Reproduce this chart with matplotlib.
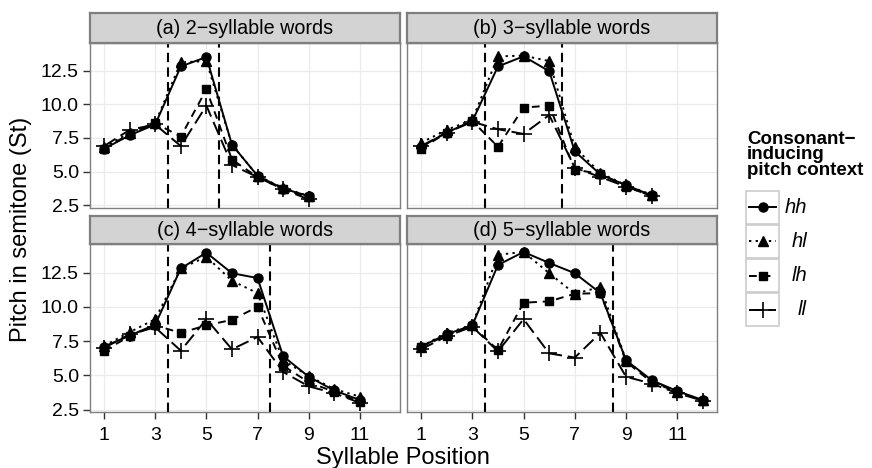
import matplotlib
matplotlib.use("Agg")
import matplotlib.pyplot as plt
from matplotlib.patches import Rectangle

plt.rcParams['font.family'] = ['Liberation Sans', 'DejaVu Sans']

# ---------------- data ----------------
panel_titles = ["(a) 2\u2212syllable words", "(b) 3\u2212syllable words",
                "(c) 4\u2212syllable words", "(d) 5\u2212syllable words"]
n_syllables = [2, 3, 4, 5]
contexts = ["hh", "hl", "lh", "ll"]

a_hh = [6.7, 7.7, 8.5, 12.8, 13.5, 7.0, 4.7, 3.75, 3.2]
a_hl = [6.8, 7.9, 8.6, 13.1, 13.2, 7.0, 4.7, 3.8, 3.2]
a_lh = [6.7, 7.8, 8.6, 7.6, 11.1, 5.9, 4.6, 3.7, 3.1]
a_ll = [6.9, 8.1, 8.5, 6.9, 9.9, 5.5, 4.6, 3.7, 2.95]

b_hh = [6.85, 7.9, 8.75, 12.8, 13.55, 12.45, 6.5, 4.8, 4.0, 3.25]
b_hl = [7.15, 8.1, 8.85, 13.55, 13.6, 13.2, 6.8, 4.9, 4.0, 3.3]
b_lh = [6.7, 7.9, 8.75, 6.85, 9.75, 9.9, 5.15, 4.85, 3.9, 3.2]
b_ll = [6.9, 7.9, 8.7, 8.15, 7.8, 9.2, 5.3, 4.6, 3.9, 3.2]

c_hh = [7.1, 7.9, 8.7, 12.8, 13.95, 12.45, 12.1, 6.4, 4.9, 3.9, 3.2]
c_hl = [7.15, 8.15, 9.1, 12.8, 13.65, 11.9, 11.0, 6.1, 4.95, 4.0, 3.45]
c_lh = [6.8, 7.85, 8.65, 8.1, 8.65, 9.05, 10.0, 5.7, 4.5, 3.8, 3.05]
c_ll = [7.0, 8.0, 8.5, 6.8, 9.1, 6.9, 7.8, 5.25, 4.2, 3.7, 3.0]

d_hh = [7.1, 8.0, 8.65, 13.05, 14.0, 13.2, 12.45, 11.0, 6.1, 4.65, 3.85, 3.2]
d_hl = [7.1, 8.1, 8.65, 13.8, 14.0, 12.45, 10.95, 11.45, 6.1, 4.6, 3.8, 3.2]
d_lh = [7.1, 7.9, 8.6, 6.85, 10.3, 10.4, 10.95, 11.0, 6.0, 4.5, 3.8, 3.15]
d_ll = [6.9, 7.85, 8.55, 6.75, 9.1, 6.6, 6.3, 8.1, 4.9, 4.4, 3.7, 3.15]

panel_data = [
    {"hh": a_hh, "hl": a_hl, "lh": a_lh, "ll": a_ll},
    {"hh": b_hh, "hl": b_hl, "lh": b_lh, "ll": b_ll},
    {"hh": c_hh, "hl": c_hl, "lh": c_lh, "ll": c_ll},
    {"hh": d_hh, "hl": d_hl, "lh": d_lh, "ll": d_ll},
]

x_ticks = [1, 3, 5, 7, 9, 11]
y_ticks = [2.5, 5.0, 7.5, 10.0, 12.5]
y_tick_labels = ["2.5", "5.0", "7.5", "10.0", "12.5"]

# ---------------- styles ----------------
styles = {
    "hh": dict(linestyle="-", marker="o", markersize=6.5),
    "hl": dict(linestyle=(0, (1.2, 2.2)), marker="^", markersize=7),
    "lh": dict(linestyle=(0, (4, 3)), marker="s", markersize=6),
    "ll": dict(linestyle=(0, (7, 3)), marker="+", markersize=11, markeredgewidth=1.2),
}
LW = 1.4

W, H = 872, 468
fig = plt.figure(figsize=(W / 100, H / 100), dpi=100)


def rect(x0, y0, x1, y1):
    return [x0 / W, 1 - y1 / H, (x1 - x0) / W, (y1 - y0) / H]


cols = [(90, 399.5), (407, 717)]
rows_plot = [(42.7, 207.5), (244.3, 411.7)]
rows_strip = [(13, 42.7), (216, 244.3)]

border_col = "#7f7f7f"
for i in range(4):
    r, c = divmod(i, 2)
    x0, x1 = cols[c]
    y0, y1 = rows_plot[r]
    ax = fig.add_axes(rect(x0, y0, x1, y1))
    ax.set_xlim(0.45, 12.55)
    ax.set_ylim(2.35, 14.56)
    ax.set_xticks(x_ticks)
    ax.set_yticks(y_ticks)
    ax.grid(True, color="#ebebeb", linewidth=0.9)
    ax.set_axisbelow(True)
    for s in ax.spines.values():
        s.set_color(border_col)
        s.set_linewidth(1.0)
    ax.tick_params(length=5, width=1.0, color="#333333", labelsize=14,
                   labelcolor="black", pad=3)
    ax.tick_params(axis="x", pad=6)
    if c == 0:
        ax.set_yticklabels(y_tick_labels)
    else:
        ax.tick_params(axis="y", length=0, labelleft=False)
    if r == 1:
        ax.set_xticklabels([str(v) for v in x_ticks])
    else:
        ax.tick_params(axis="x", length=0, labelbottom=False)

    n = n_syllables[i]
    ax.axvline(3.5, color="black", linestyle=(0, (4.5, 2.5)), linewidth=1.5, zorder=1)
    ax.axvline(3.5 + n, color="black", linestyle=(0, (4.5, 2.5)), linewidth=1.5, zorder=1)

    for ctx in contexts:
        ys = panel_data[i][ctx]
        xs = list(range(1, len(ys) + 1))
        ax.plot(xs, ys, color="black", linewidth=LW, zorder=3,
                markerfacecolor="black", markeredgecolor="black", **styles[ctx])

    # strip
    sy0, sy1 = rows_strip[r]
    sax = fig.add_axes(rect(x0, sy0, x1, sy1))
    sax.set_facecolor("#d3d3d3")
    sax.set_xticks([])
    sax.set_yticks([])
    for s in sax.spines.values():
        s.set_color(border_col)
        s.set_linewidth(1.6)
    sax.text(0.5, 0.47, panel_titles[i], ha="center", va="center",
             fontsize=14.2, transform=sax.transAxes)

fig.text(403 / W, 1 - 458 / H, "Syllable Position", ha="center", va="center", fontsize=17)
fig.text(21 / W, 1 - 229 / H, "Pitch in semitone (St)", ha="center", va="center",
         fontsize=17, rotation=90)

# ---------------- legend ----------------
fig.text(747 / W, 1 - 155 / H, "Consonant\u2212\ninducing\npitch context",
         ha="left", va="center", fontsize=13.5, fontweight="bold", linespacing=0.92)
lx0, lx1 = 745, 780
ly0, ly1 = 190, 327
lax = fig.add_axes(rect(lx0, ly0, lx1, ly1))
lax.set_xlim(0, 1)
lax.set_ylim(len(contexts), 0)
lax.axis("off")
for k, ctx in enumerate(contexts):
    lax.add_patch(Rectangle((0.02, k + 0.02), 0.96, 0.96, facecolor="white",
                            edgecolor="#cccccc", linewidth=1.2))
    lax.plot([0.12, 0.88], [k + 0.5, k + 0.5], color="black", linewidth=LW,
             markerfacecolor="black", markeredgecolor="black",
             markevery=[], **styles[ctx])
    mk = dict(styles[ctx])
    mk.pop("linestyle")
    lax.plot([0.5], [k + 0.5], color="black", linestyle="none",
             markerfacecolor="black", markeredgecolor="black", **mk)
    fig.text(807 / W, 1 - (ly0 + (k + 0.5) * (ly1 - ly0) / len(contexts)) / H, ctx,
             ha="right", va="center", fontsize=14.5, style="italic")

fig.savefig("out.png", dpi=100)
